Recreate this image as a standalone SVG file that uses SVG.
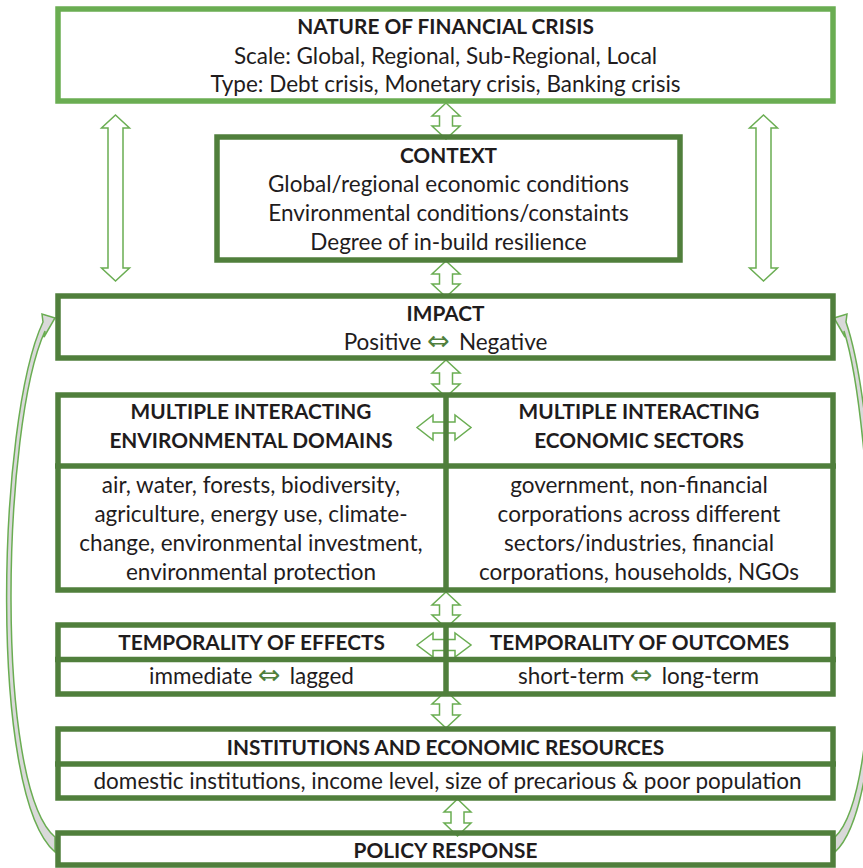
<svg xmlns="http://www.w3.org/2000/svg" width="863" height="868" viewBox="0 0 863 868">
  <style>
    .frame-light { fill: none; stroke: #6aad52; stroke-width: 5.5; }
    .frame-dark { fill: none; stroke: #507f3c; stroke-width: 5.5; }
    .rule { stroke: #507f3c; stroke-width: 5.5; }
    .link { fill: #ffffff; stroke: #6aad52; stroke-width: 1.5; stroke-linejoin: miter; }
    .loop { fill: #d9d9d9; stroke: #6aad52; stroke-width: 1.5; stroke-linejoin: miter; }
    text { font-family: Lato, "Liberation Sans", sans-serif; font-size: 22.5px; fill: #1f1c1d; text-anchor: middle; }
    .head { font-weight: bold; font-size: 20.8px; }
    .sym { font-family: "DejaVu Sans", sans-serif; font-size: 27px; fill: #507f3c; }
  </style>

  <rect x="0" y="0" width="863" height="868" fill="#ffffff"/>

  <!-- connectors: block arrows between stages and the feedback loops -->
  <g id="connectors">
    <!-- crisis <-> impact, both sides -->
    <path class="link" d="M115.5,115 L129.5,128 L123,128 L123,268 L129.5,268 L115.5,281 L101.5,268 L108,268 L108,128 L101.5,128 Z"/>
    <path class="link" d="M763.5,115 L777.5,128 L771,128 L771,268 L777.5,268 L763.5,281 L749.5,268 L756,268 L756,128 L749.5,128 Z"/>
    <!-- vertical links down the centre -->
    <path class="link" d="M446,103 L460,116 L452.5,116 L452.5,126 L460,126 L446,139 L432,126 L439.5,126 L439.5,116 L432,116 Z"/>
    <path class="link" d="M446,261 L460,274 L452.5,274 L452.5,284 L460,284 L446,297 L432,284 L439.5,284 L439.5,274 L432,274 Z"/>
    <path class="link" d="M446,360 L460,373 L452.5,373 L452.5,384 L460,384 L446,397 L432,384 L439.5,384 L439.5,373 L432,373 Z"/>
    <path class="link" d="M446,592 L460,605 L452.5,605 L452.5,615 L460,615 L446,628 L432,615 L439.5,615 L439.5,605 L432,605 Z"/>
    <path class="link" d="M446,691 L460,704 L452.5,704 L452.5,715 L460,715 L446,728 L432,715 L439.5,715 L439.5,704 L432,704 Z"/>
    <path class="link" d="M457.5,799 L471,812 L464,812 L464,823 L471,823 L457.5,836 L444,823 L451,823 L451,812 L444,812 Z"/>
    <!-- horizontal links between the two columns -->
    <path class="link" d="M417,427.5 L433,415 L433,422 L455,422 L455,415 L471,427.5 L455,440 L455,433 L433,433 L433,440 Z"/>
    <path class="link" d="M417,645 L433,633 L433,639.5 L455,639.5 L455,633 L471,645 L455,657 L455,650.5 L433,650.5 L433,657 Z"/>
    <!-- feedback loops from policy response back to impact -->
    <path class="loop" d="M55,852 C-12,795 -3,420 43,322 L42,314 L55,318 L44,337 L45,331 C2,425 -6,785 55,837 Z"/>
    <path class="loop" d="M835,852 C897,795 880,420 846,322 L847,314 L834,318 L845,337 L844,331 C874,425 890,785 835,837 Z"/>
  </g>

  <g id="nature-of-crisis">
    <rect class="frame-light" x="58" y="9" width="775" height="92"/>
    <text class="head" x="445.5" y="34">NATURE OF FINANCIAL CRISIS</text>
    <text x="445.5" y="64">Scale: Global, Regional, Sub-Regional, Local</text>
    <text x="445.5" y="92">Type: Debt crisis, Monetary crisis, Banking crisis</text>
  </g>

  <g id="context">
    <rect class="frame-dark" x="217" y="137" width="463" height="123"/>
    <text class="head" x="448.5" y="163">CONTEXT</text>
    <text x="448.5" y="192">Global/regional economic conditions</text>
    <text x="448.5" y="221">Environmental conditions/constaints</text>
    <text x="448.5" y="250">Degree of in-build resilience</text>
  </g>

  <g id="impact">
    <rect class="frame-dark" x="58" y="296" width="775" height="62"/>
    <text class="head" x="445.5" y="321">IMPACT</text>
    <text x="445.5" y="350">Positive <tspan class="sym">⇔</tspan><tspan dx="9">Negative</tspan></text>
  </g>

  <g id="interacting-domains-sectors">
    <rect class="frame-dark" x="58" y="395" width="775" height="195"/>
    <line class="rule" x1="55" y1="466" x2="836" y2="466"/>
    <line class="rule" x1="446" y1="395" x2="446" y2="590"/>
    <text class="head" x="251" y="419">MULTIPLE INTERACTING</text>
    <text class="head" x="251" y="448">ENVIRONMENTAL DOMAINS</text>
    <text x="251" y="493">air, water, forests, biodiversity,</text>
    <text x="251" y="522">agriculture, energy use, climate-</text>
    <text x="251" y="551">change, environmental investment,</text>
    <text x="251" y="580">environmental protection</text>
    <text class="head" x="639" y="419">MULTIPLE INTERACTING</text>
    <text class="head" x="639" y="448">ECONOMIC SECTORS</text>
    <text x="639" y="493">government, non-financial</text>
    <text x="639" y="522">corporations across different</text>
    <text x="639" y="551">sectors/industries, financial</text>
    <text x="639" y="580">corporations, households, NGOs</text>
  </g>

  <g id="temporality">
    <rect class="frame-dark" x="58" y="625" width="775" height="69"/>
    <line class="rule" x1="55" y1="659.5" x2="836" y2="659.5"/>
    <line class="rule" x1="446" y1="625" x2="446" y2="694"/>
    <text class="head" x="251.5" y="650">TEMPORALITY OF EFFECTS</text>
    <text x="251.5" y="684">immediate <tspan class="sym">⇔</tspan><tspan dx="9">lagged</tspan></text>
    <text class="head" x="639.5" y="650">TEMPORALITY OF OUTCOMES</text>
    <text x="638.5" y="684">short-term <tspan class="sym">⇔</tspan><tspan dx="9">long-term</tspan></text>
  </g>

  <g id="institutions">
    <rect class="frame-dark" x="58" y="729" width="775" height="69"/>
    <line class="rule" x1="55" y1="764" x2="836" y2="764"/>
    <text class="head" x="445.5" y="755">INSTITUTIONS AND ECONOMIC RESOURCES</text>
    <text x="447.5" y="789">domestic institutions, income level, size of precarious &amp; poor population</text>
  </g>

  <g id="policy-response">
    <rect class="frame-dark" x="58" y="833" width="775" height="32"/>
    <text class="head" x="445.5" y="858">POLICY RESPONSE</text>
  </g>
</svg>
